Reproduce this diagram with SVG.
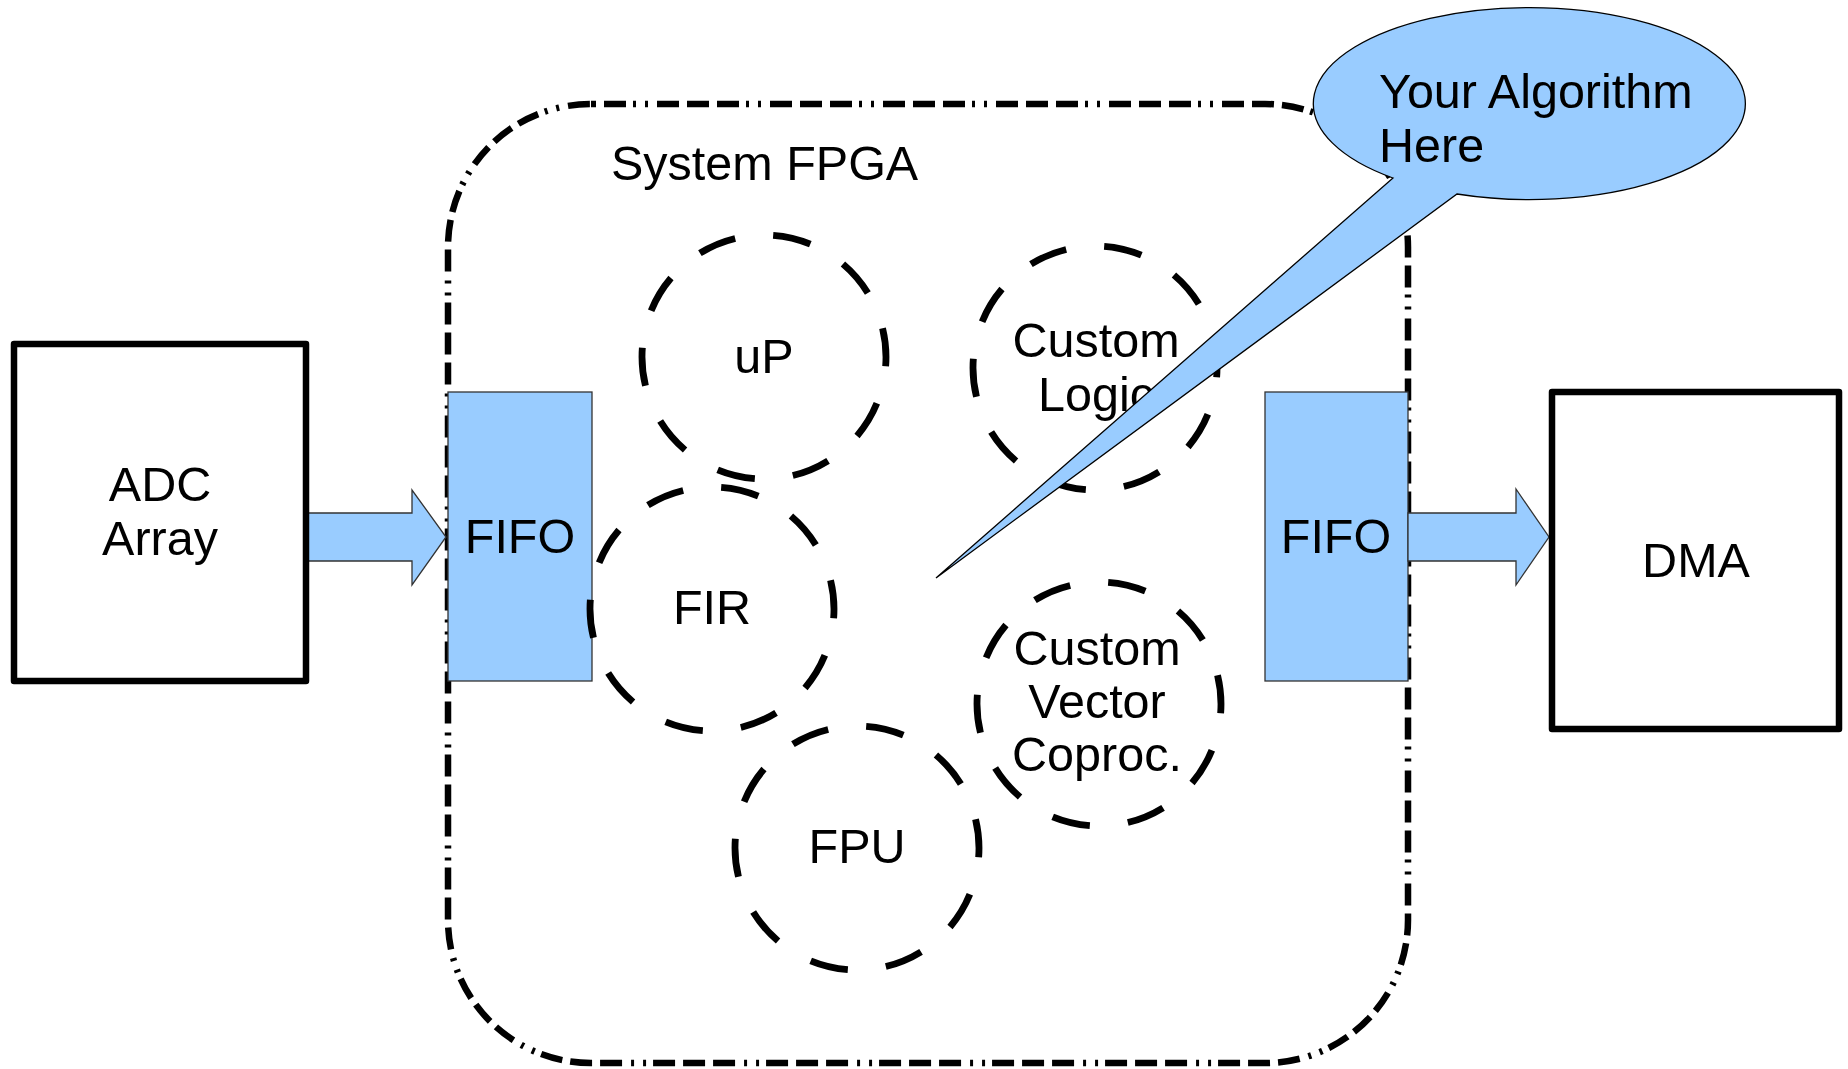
<svg xmlns="http://www.w3.org/2000/svg" width="1848" height="1069" viewBox="0 0 1848 1069">
<style>
  text { font-family: "Liberation Sans", Arial, "DejaVu Sans", sans-serif; font-size: 48.5px; fill: #000; }
  .mid { text-anchor: middle; }
  .box { fill: #fff; stroke: #000; stroke-width: 6.5; stroke-linejoin: round; }
  .blue { fill: #99ccff; stroke: #333; stroke-width: 1.3; }
  .core { fill: none; stroke: #000; stroke-width: 6.8; stroke-dasharray: 5 5; stroke-dashoffset: 3.8; }
  .fpga { fill: none; stroke: #000; stroke-width: 6.5; stroke-dasharray: 22 8 22 8 22 7 3 9 3 9; stroke-dashoffset: 47; }
</style>
<rect width="1848" height="1069" fill="#fff"/>

<g id="fpga">
  <rect class="fpga" x="448" y="104" width="960" height="959" rx="143" ry="143"/>
  <text x="611" y="180">System FPGA</text>
</g>

<g id="fifo-in">
  <rect class="blue" x="448" y="392" width="144" height="289"/>
  <text class="mid" x="520" y="553">FIFO</text>
</g>

<g id="fifo-out">
  <rect class="blue" x="1265" y="392" width="143" height="289"/>
  <text class="mid" x="1336" y="553">FIFO</text>
</g>

<g id="up">
  <circle class="core" cx="764" cy="357" r="122" pathLength="100"/>
  <text class="mid" x="764" y="373">uP</text>
</g>

<g id="custom-logic">
  <circle class="core" cx="1095" cy="368" r="122" pathLength="100"/>
  <text class="mid" x="1096" y="357">Custom</text>
  <text class="mid" x="1096" y="411">Logic</text>
</g>

<g id="fir">
  <circle class="core" cx="712" cy="609" r="122" pathLength="100"/>
  <text class="mid" x="712" y="624">FIR</text>
</g>

<g id="custom-vector-coproc">
  <circle class="core" cx="1099" cy="704" r="122" pathLength="100"/>
  <text class="mid" x="1097" y="665">Custom</text>
  <text class="mid" x="1097" y="718">Vector</text>
  <text class="mid" x="1097" y="771">Coproc.</text>
</g>

<g id="fpu">
  <circle class="core" cx="857" cy="848" r="122" pathLength="100"/>
  <text class="mid" x="857" y="863">FPU</text>
</g>

<g id="connectors">
  <polygon class="blue" points="307,513 412,513 412,490 446,537 412,585 412,561 307,561"/>
  <polygon class="blue" points="1408,513 1516,513 1516,489 1549,537 1516,585 1516,561 1408,561"/>
</g>

<g id="adc-array">
  <rect class="box" x="14" y="344" width="292" height="337"/>
  <text class="mid" x="160" y="501">ADC</text>
  <text class="mid" x="160" y="555">Array</text>
</g>

<g id="dma">
  <rect class="box" x="1552" y="392" width="287" height="337"/>
  <text class="mid" x="1696" y="577">DMA</text>
</g>

<g id="callout">
  <path fill="#99ccff" stroke="#000" stroke-width="1.3" stroke-linejoin="miter" d="M 1393 178 A 216 96 0 1 1 1457 194 L 936 578 Z"/>
  <text x="1379" y="108">Your Algorithm</text>
  <text x="1379" y="162">Here</text>
</g>
</svg>
